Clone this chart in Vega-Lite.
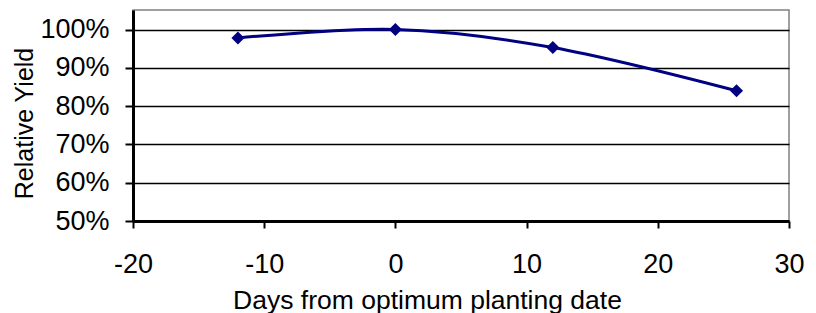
{
  "$schema": "https://vega.github.io/schema/vega-lite/v6.json",
  "width": 656,
  "height": 211,
  "autosize": {"type": "none"},
  "padding": {"left": 133, "top": 10, "right": 27, "bottom": 92},
  "background": "white",
  "config": {
    "view": {"stroke": "#808080", "strokeWidth": 1.5},
    "font": "Liberation Sans"
  },
  "data": {
    "values": [
      {"days": -12, "yield": 0.978},
      {"days": 0, "yield": 1.0},
      {"days": 12, "yield": 0.953},
      {"days": 26, "yield": 0.84}
    ]
  },
  "encoding": {
    "x": {
      "field": "days",
      "type": "quantitative",
      "scale": {"domain": [-20, 30], "nice": false, "zero": false},
      "axis": {
        "values": [-20, -10, 0, 10, 20, 30],
        "labelExpr": "'' + datum.value",
        "title": "Days from optimum planting date",
        "grid": false,
        "domainColor": "black",
        "domainWidth": 3,
        "tickColor": "black",
        "tickWidth": 2,
        "tickSize": 7,
        "labelFontSize": 27,
        "labelColor": "black",
        "labelPadding": 23,
        "labelFlush": false,
        "labelOverlap": false,
        "titleFontSize": 26.5,
        "titleFontWeight": "normal",
        "titleColor": "black",
        "titleX": 294,
        "titleY": 87,
        "titleBaseline": "alphabetic",
        "titleAnchor": "middle"
      }
    },
    "y": {
      "field": "yield",
      "type": "quantitative",
      "scale": {"domain": [0.5, 1.051], "nice": false, "zero": false},
      "axis": {
        "values": [0.5, 0.6, 0.7, 0.8, 0.9, 1.0],
        "format": ".0%",
        "title": "Relative Yield",
        "grid": true,
        "gridColor": "black",
        "gridWidth": 1.5,
        "gridOpacity": 1,
        "domainColor": "black",
        "domainWidth": 3,
        "tickColor": "black",
        "tickWidth": 2,
        "tickSize": 8,
        "labelFontSize": 27,
        "labelColor": "black",
        "labelPadding": 16,
        "labelFlush": false,
        "labelOverlap": false,
        "titleFontSize": 25,
        "titleFontWeight": "normal",
        "titleColor": "black",
        "titleX": -109,
        "titleY": 113,
        "titleBaseline": "middle",
        "titleAnchor": "middle"
      }
    }
  },
  "layer": [
    {
      "mark": {"type": "line", "interpolate": "cardinal", "color": "#000080", "strokeWidth": 3}
    },
    {
      "mark": {"type": "point", "shape": "diamond", "filled": true, "color": "#000080", "size": 170, "opacity": 1}
    }
  ]
}
